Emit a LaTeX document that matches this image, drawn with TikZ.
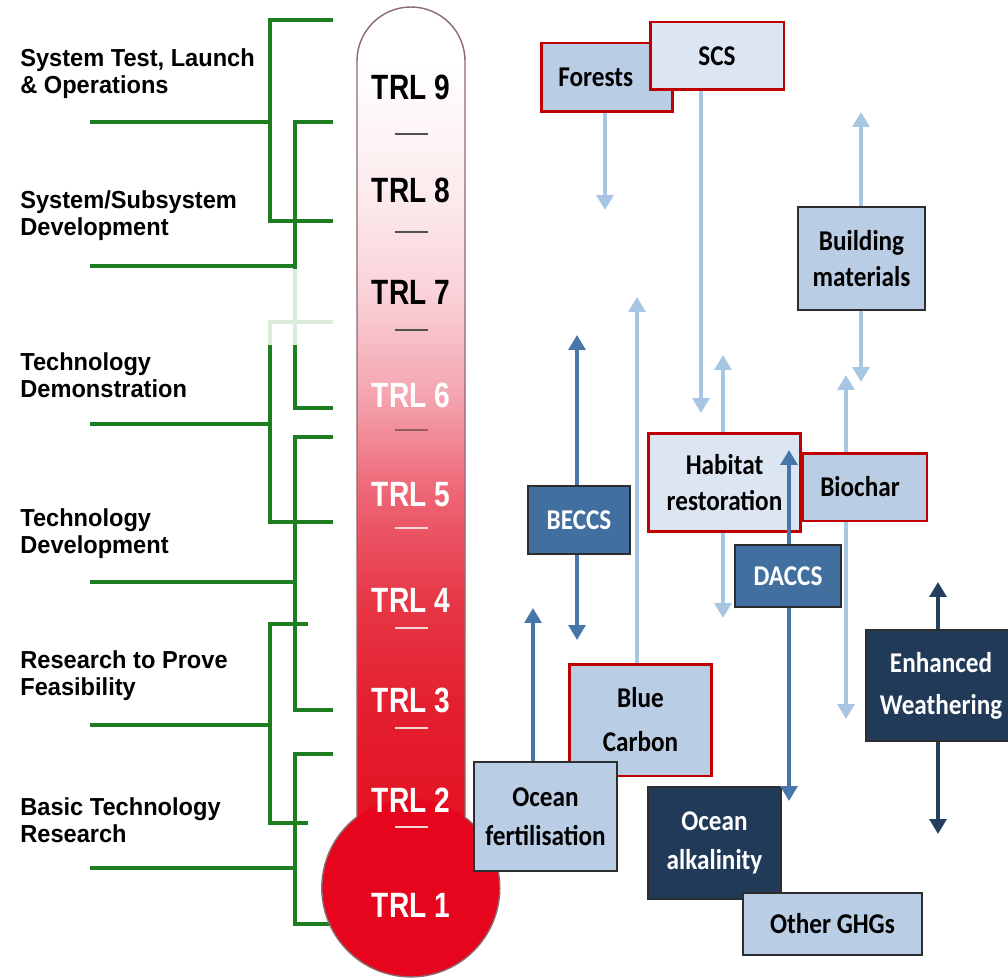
\documentclass[tikz,border=0pt]{standalone}
\usepackage{fontspec}
\setmainfont{Liberation Sans}
\newfontfamily\stagefont[FakeStretch=0.96]{Liberation Sans}
\newfontfamily\trlfont[FakeStretch=0.8]{Liberation Sans}
\newfontfamily\boxfont[FakeStretch=0.88]{Carlito}
\usetikzlibrary{arrows.meta}

\definecolor{trlgreen}{RGB}{30,125,30}
\definecolor{thermoA}{RGB}{252,236,238}
\definecolor{thermoB}{RGB}{249,210,216}
\definecolor{thermoC}{RGB}{244,165,176}
\definecolor{thermoD}{RGB}{237,100,116}
\definecolor{thermoE}{RGB}{231,55,70}
\definecolor{thermoF}{RGB}{228,32,48}
\definecolor{thermoG}{RGB}{228,18,34}
\definecolor{bulbred}{RGB}{230,5,28}
\definecolor{thermoline}{RGB}{140,105,110}
\definecolor{tickdark}{RGB}{80,80,80}
\definecolor{tickmid}{RGB}{150,90,100}
\definecolor{ticklight}{RGB}{245,215,218}
\definecolor{boxlight}{RGB}{185,205,229}
\definecolor{boxpale}{RGB}{220,230,242}
\definecolor{boxmid}{RGB}{65,112,160}
\definecolor{boxdark}{RGB}{33,58,88}
\definecolor{boxred}{RGB}{192,0,0}
\definecolor{boxline}{RGB}{45,45,45}
\definecolor{arrlight}{RGB}{168,198,228}
\definecolor{arrmid}{RGB}{70,118,170}
\definecolor{arrdark}{RGB}{36,62,94}

\tikzset{
  bracket/.style={trlgreen, line width=2.2pt},
  stage/.style={anchor=west, align=left, inner sep=0pt,
    font=\stagefont\fontsize{14}{15.3}\selectfont\bfseries},
  trl/.style={inner sep=0pt, font=\trlfont\fontsize{20}{20}\selectfont\bfseries},
  box/.style={draw=boxline, line width=0.8pt, fill=boxlight, align=center,
    inner sep=1pt, font=\boxfont\fontsize{16.3}{20}\selectfont\bfseries},
  redbox/.style={box, draw=boxred, line width=1.7pt},
  midbox/.style={box, fill=boxmid, text=white},
  darkbox/.style={box, fill=boxdark, text=white},
  lightarr/.style={arrlight, line width=2.8pt, -{Triangle[width=9.5pt,length=8.5pt]}},
  midarr/.style={arrmid, line width=2.8pt, -{Triangle[width=9.5pt,length=8.5pt]}},
  darkarr/.style={arrdark, line width=2.8pt, -{Triangle[width=9.5pt,length=8.5pt]}}
}

\begin{document}
\begin{tikzpicture}[x=0.02cm, y=-0.02cm]
\useasboundingbox (0,0) rectangle (1008,980);
\fill[white] (0,0) rectangle (1008,980);

% stages on the left
\node[stage] (lblOps) at (20,73.5) {System Test, Launch\\\& Operations};
\node[stage] (lblSys) at (20,216) {System/Subsystem\\Development};
\node[stage] (lblDemo) at (20,375) {Technology\\Demonstration};
\node[stage] (lblDev) at (20,533.5) {Technology\\Development};
\node[stage] (lblProof) at (20,676) {Research to Prove\\Feasibility};
\node[stage] (lblBasic) at (20,820) {Basic Technology\\Research};

% brackets
\draw[bracket] (333,20) -- (270,20) -- (270,221) -- (333,221);
\draw[bracket] (90,122) -- (270,122);
\draw[bracket] (333,122) -- (295,122) -- (295,408) -- (333,408);
\draw[bracket] (90,266) -- (295,266);
\draw[bracket] (333,322) -- (270,322) -- (270,522) -- (333,522);
\draw[bracket] (90,424) -- (270,424);
\draw[bracket] (333,437) -- (295,437) -- (295,710) -- (333,710);
\draw[bracket] (90,582) -- (295,582);
\draw[bracket] (308,624) -- (270,624) -- (270,823) -- (308,823);
\draw[bracket] (90,725) -- (270,725);
\draw[bracket] (333,754) -- (295,754) -- (295,924) -- (333,924);
\draw[bracket] (90,868) -- (295,868);
\fill[white, opacity=0.85] (262,269) rectangle (340,345);

% thermometer
\begin{scope}
\clip (465,817) -- (465,61) arc[start angle=0, end angle=-180, radius=54]
  -- (357,817) arc[start angle=232.8, end angle=-52.8, radius=89] -- cycle;
\fill[white] (340,0) rectangle (480,191);
\shade[top color=white, bottom color=thermoA] (340,60) rectangle (480,191);
\shade[top color=thermoA, bottom color=thermoB] (340,190) rectangle (480,293);
\shade[top color=thermoB, bottom color=thermoC] (340,292) rectangle (480,396);
\shade[top color=thermoC, bottom color=thermoD] (340,395) rectangle (480,496);
\shade[top color=thermoD, bottom color=thermoE] (340,495) rectangle (480,601);
\shade[top color=thermoE, bottom color=thermoF] (340,600) rectangle (480,701);
\shade[top color=thermoF, bottom color=thermoG] (340,700) rectangle (480,825);
\fill[bulbred] (411,888) circle[radius=89];
\end{scope}
\draw[thermoline, line width=0.8pt] (465,817) -- (465,61)
  arc[start angle=0, end angle=-180, radius=54]
  -- (357,817) arc[start angle=232.8, end angle=-52.8, radius=89];

\foreach \y/\c in {134/tickdark, 232/tickdark, 330/tickdark, 430/tickmid,
  528/ticklight, 628/ticklight, 728/ticklight, 827/ticklight}
  \draw[\c, line width=1.1pt] (395,\y) -- (428,\y);

\foreach \n/\y/\c in {9/87/black, 8/190/black, 7/292/black, 6/395/white,
  5/495/white, 4/600/white, 3/700/white, 2/800/white, 1/905/white}
  \node[trl, text=\c] (trl\n) at (411,\y) {TRL \n};

% boxes
\node[redbox, minimum width=2.64cm, minimum height=1.38cm] (forests) at (607,77.5) {Forests\hspace*{0.45cm}};
\node[redbox, fill=boxpale, minimum width=2.68cm, minimum height=1.36cm] (scs) at (717,56) {SCS};
\node[box, minimum width=2.54cm, minimum height=2.06cm] (building) at (861.5,258.5) {Building\\materials};
\node[midbox, minimum width=2.04cm, minimum height=1.36cm] (beccs) at (579,520) {BECCS};
\node[redbox, fill=boxpale, minimum width=3.06cm, minimum height=1.98cm] (habitat) at (724.5,482.5) {Habitat\\restoration};
\node[redbox, minimum width=2.5cm, minimum height=1.36cm] (biochar) at (864.5,487) {Biochar\hspace*{0.18cm}};
\node[midbox, minimum width=2.12cm, minimum height=1.24cm] (daccs) at (788,576) {DACCS};
\node[darkbox, minimum width=3.0cm, minimum height=2.22cm] (enhanced) at (941,685.5) {Enhanced\\[4pt]Weathering};
\node[redbox, minimum width=2.86cm, minimum height=2.24cm] (bluecarbon) at (640.5,720) {Blue\\[5pt]Carbon};
\node[box, minimum width=2.86cm, minimum height=2.18cm] (oceanfert) at (545.5,816.5) {Ocean\\[2pt]fertilisation};
\node[darkbox, minimum width=2.66cm, minimum height=2.24cm] (oceanalk) at (714.5,843) {Ocean\\[2pt]alkalinity};
\node[box, minimum width=3.58cm, minimum height=1.24cm] (otherghg) at (832.5,924) {Other GHGs};

% arrow tips
\coordinate (forestsTip) at (605,210);
\coordinate (scsTip) at (701,413);
\coordinate (blueTip) at (637,297);
\coordinate (habitatUp) at (723,355);
\coordinate (habitatDown) at (723,618);
\coordinate (buildingUp) at (861,112);
\coordinate (buildingDown) at (861,382);
\coordinate (biocharUp) at (846,375);
\coordinate (biocharDown) at (846,719);
\coordinate (beccsUp) at (577,335);
\coordinate (beccsDown) at (577,640);
\coordinate (fertTip) at (533,608);
\coordinate (daccsUp) at (789,450);
\coordinate (daccsDown) at (789,801);
\coordinate (enhancedUp) at (938,582);
\coordinate (enhancedDown) at (938,834);

% arrows
\draw[lightarr] (forestsTip |- forests.south) -- (forestsTip);
\draw[lightarr] (scsTip |- scs.south) -- (scsTip);
\draw[lightarr] (blueTip |- bluecarbon.north) -- (blueTip);
\draw[lightarr] (habitatUp |- habitat.north) -- (habitatUp);
\draw[lightarr] (habitatDown |- habitat.south) -- (habitatDown);
\draw[lightarr] (buildingUp |- building.north) -- (buildingUp);
\draw[lightarr] (buildingDown |- building.south) -- (buildingDown);
\draw[lightarr] (biocharUp |- biochar.north) -- (biocharUp);
\draw[lightarr] (biocharDown |- biochar.south) -- (biocharDown);
\draw[midarr] (beccsUp |- beccs.north) -- (beccsUp);
\draw[midarr] (beccsDown |- beccs.south) -- (beccsDown);
\draw[midarr] (fertTip |- oceanfert.north) -- (fertTip);
\draw[midarr] (daccsUp |- daccs.north) -- (daccsUp);
\draw[midarr] (daccsDown |- daccs.south) -- (daccsDown);
\draw[darkarr] (enhancedUp |- enhanced.north) -- (enhancedUp);
\draw[darkarr] (enhancedDown |- enhanced.south) -- (enhancedDown);
\end{tikzpicture}
\end{document}
